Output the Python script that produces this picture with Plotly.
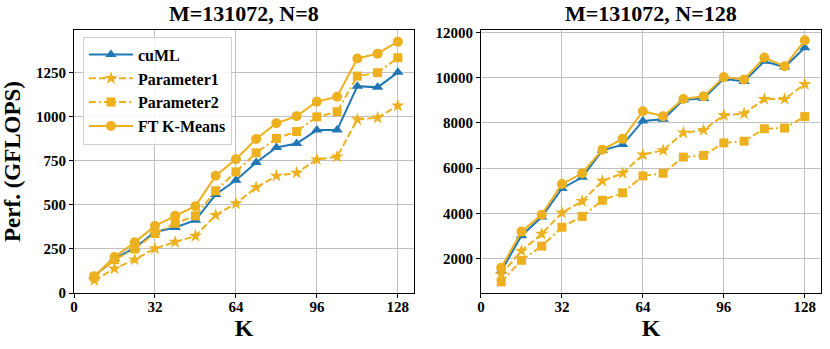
import plotly.graph_objects as go
from plotly.subplots import make_subplots

# K values (x axis)
k_vals = [8, 16, 24, 32, 40, 48, 56, 64, 72, 80, 88, 96, 104, 112, 120, 128]

# M=131072, N=8
cuml_n8 = [95, 195, 255, 346, 371, 412, 558, 639, 739, 824, 847, 923, 923, 1172, 1165, 1250]
param1_n8 = [72, 138, 189, 252, 289, 323, 441, 507, 598, 664, 681, 756, 772, 983, 993, 1061]
param2_n8 = [91, 189, 250, 337, 395, 437, 579, 686, 794, 876, 915, 998, 1027, 1229, 1248, 1333]
ftkm_n8 = [95, 204, 287, 380, 437, 492, 664, 758, 872, 962, 1002, 1084, 1112, 1329, 1356, 1424]

# M=131072, N=128
cuml_n128 = [1450, 3013, 3833, 5100, 5592, 6784, 7037, 8081, 8155, 9004, 9079, 9943, 9824, 10718, 10465, 11315]
param1_n128 = [1300, 2343, 3088, 4027, 4533, 5428, 5770, 6590, 6784, 7559, 7678, 8334, 8408, 9049, 9049, 9705]
param2_n128 = [972, 1925, 2551, 3386, 3863, 4578, 4906, 5651, 5770, 6486, 6560, 7112, 7186, 7738, 7768, 8274]
ftkm_n128 = [1598, 3192, 3937, 5294, 5770, 6814, 7290, 8512, 8289, 9049, 9168, 10018, 9913, 10882, 10495, 11642]

titles = ["M=131072, N=8", "M=131072, N=128"]
x_ticks = [0, 32, 64, 96, 128]

BLUE = "#2077b4"
YELLOW = "#EDB120"
FONT = "Liberation Serif"

styles = [
    ("cuML", BLUE, "solid", "triangle-up", 10),
    ("Parameter1", YELLOW, "7px,3px", "star", 10),
    ("Parameter2", YELLOW, "7px,3px,2px,3px", "square", 9),
    ("FT K-Means", YELLOW, "solid", "circle", 10),
]

panels = [
    [cuml_n8, param1_n8, param2_n8, ftkm_n8],
    [cuml_n128, param1_n128, param2_n128, ftkm_n128],
]

fig = make_subplots(rows=1, cols=2)

for col, series in enumerate(panels, start=1):
    for (name, color, dash, symbol, size), vals in zip(styles, series):
        fig.add_trace(
            go.Scatter(
                x=k_vals,
                y=vals,
                name=name,
                mode="lines+markers",
                line=dict(color=color, width=2, dash=dash),
                marker=dict(symbol=symbol, size=size, color=color),
                showlegend=(col == 1),
            ),
            row=1,
            col=col,
        )

axis_common = dict(
    showline=True,
    linecolor="black",
    linewidth=1,
    mirror=True,
    showgrid=True,
    gridcolor="#c0c0c0",
    gridwidth=1,
    ticks="outside",
    ticklen=4,
    tickcolor="black",
    zeroline=False,
    automargin=False,
    tickfont=dict(family=FONT, size=15, color="black", weight="bold"),
)

fig.update_xaxes(
    **axis_common,
    range=[0, 134.4],
    tickvals=x_ticks,
    ticktext=[str(v) for v in x_ticks],
    ticklabelstandoff=-4,
    title=dict(text="K", font=dict(family=FONT, size=24, color="black", weight="bold"), standoff=0),
)

fig.update_layout(
    xaxis=dict(domain=[0, 0.4552]),
    xaxis2=dict(domain=[0.5448, 1]),
)

fig.update_yaxes(**axis_common)
y1_ticks = [0, 250, 500, 750, 1000, 1250]
y2_ticks = [2000, 4000, 6000, 8000, 10000, 12000]
fig.update_yaxes(
    range=[0, 1490],
    tickvals=y1_ticks,
    ticktext=[str(v) for v in y1_ticks],
    title=dict(text="Perf. (GFLOPS)", font=dict(family=FONT, size=23, color="black", weight="bold"), standoff=8),
    row=1,
    col=1,
)
fig.update_yaxes(
    range=[480, 12100],
    tickvals=y2_ticks,
    ticktext=[str(v) for v in y2_ticks],
    row=1,
    col=2,
)

for i, t in enumerate(titles):
    fig.add_annotation(
        text=t,
        xref=f"x{'' if i == 0 else i + 1} domain",
        yref="paper",
        x=0.5,
        y=1,
        yanchor="bottom",
        yshift=2,
        showarrow=False,
        font=dict(family=FONT, size=22, color="black", weight="bold"),
    )

fig.update_layout(
    width=830,
    height=349,
    margin=dict(l=74, r=9, t=30, b=56),
    plot_bgcolor="white",
    paper_bgcolor="white",
    font=dict(family=FONT, color="black"),
    legend=dict(
        x=0.012,
        y=0.975,
        xanchor="left",
        yanchor="top",
        bgcolor="rgba(255,255,255,0.85)",
        bordercolor="#d0d0d0",
        borderwidth=1,
        font=dict(family=FONT, size=16, color="black", weight="bold"),
        tracegroupgap=0,
        itemwidth=44,
    ),
)

# drop the default page margin so the figure sits at the window's corner
fig.write_html(
    "out.html",
    config={"displayModeBar": False},
    post_script="document.body.style.margin='0';",
)
